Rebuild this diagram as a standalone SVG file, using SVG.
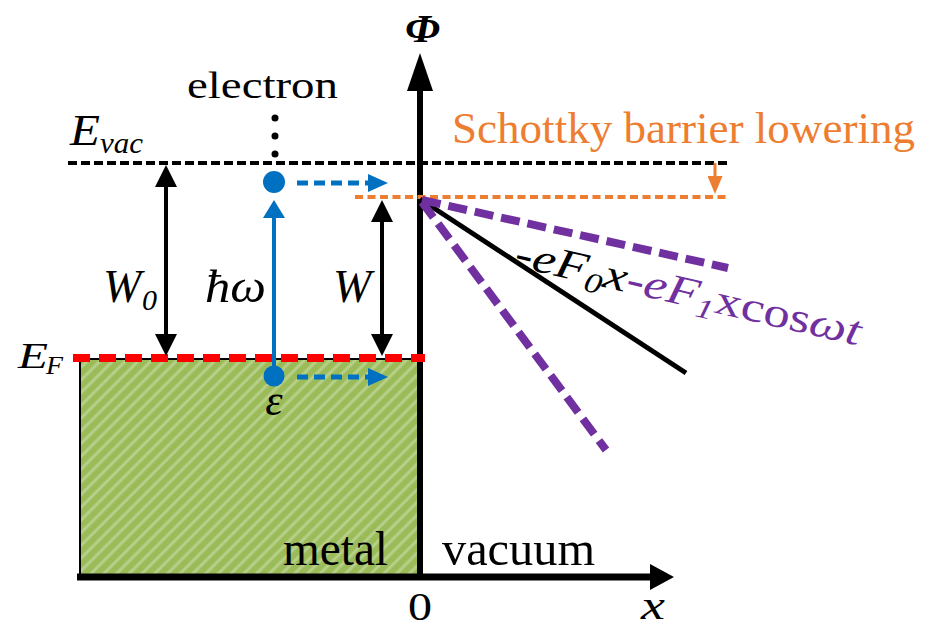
<svg xmlns="http://www.w3.org/2000/svg" width="933" height="630" viewBox="0 0 933 630">
<style>
text{font-family:"Liberation Serif","Times New Roman",serif;fill:#000}
.it{font-style:italic}
.blk{stroke:#000;fill:none}
.blue{stroke:#0070C0;fill:none}
.pur{stroke:#7030A0;stroke-width:8;stroke-dasharray:19 8;fill:none}
</style>
<defs>
<pattern id="hatch" patternUnits="userSpaceOnUse" width="9" height="9" patternTransform="rotate(45)">
<rect width="9" height="9" fill="#9BBB59"/>
<line x1="2" y1="0" x2="2" y2="9" stroke="#B7D08A" stroke-width="3"/>
</pattern>
<marker id="ahBlk" viewBox="0 0 22 22" refX="14" refY="11" markerWidth="22" markerHeight="22" markerUnits="userSpaceOnUse" orient="auto-start-reverse">
<path d="M0,0 L22,11 L0,22 z" fill="#000"/>
</marker>
<marker id="ahBlue" viewBox="0 0 18 22" refX="10" refY="11" markerWidth="18" markerHeight="22" markerUnits="userSpaceOnUse" orient="auto">
<path d="M0,0 L18,11 L0,22 z" fill="#0070C0"/>
</marker>
<marker id="ahBlueS" viewBox="0 0 20 18" refX="12" refY="9" markerWidth="20" markerHeight="18" markerUnits="userSpaceOnUse" orient="auto">
<path d="M0,0 L20,9 L0,18 z" fill="#0070C0"/>
</marker>
<marker id="ahOr" viewBox="0 0 18 15" refX="10" refY="7.5" markerWidth="18" markerHeight="15" markerUnits="userSpaceOnUse" orient="auto">
<path d="M0,0 L18,7.5 L0,15 z" fill="#ED7D31"/>
</marker>
</defs>

<g id="metal">
<rect x="80" y="358" width="340" height="219" fill="url(#hatch)"/>
<line x1="80" y1="358" x2="80" y2="577" stroke="#000" stroke-width="2"/>
<line x1="80" y1="359" x2="420" y2="359" stroke="#000" stroke-width="2"/>
<text x="283" y="565" font-size="48" textLength="105" lengthAdjust="spacingAndGlyphs">metal</text>
</g>

<g id="vacuum">
<text x="442" y="565" font-size="48" textLength="153" lengthAdjust="spacingAndGlyphs">vacuum</text>
</g>

<g id="axes">
<line x1="420" y1="577" x2="420" y2="88" stroke="#000" stroke-width="6"/>
<polygon points="420,53 407,91 433,91" fill="#000"/>
<line x1="77" y1="577" x2="652" y2="577" stroke="#000" stroke-width="7"/>
<polygon points="674,577 650,564 650,590" fill="#000"/>
<text class="it" x="405" y="42" font-size="40" font-weight="bold" textLength="35" lengthAdjust="spacingAndGlyphs">Φ</text>
<text x="408" y="620" font-size="41" textLength="24" lengthAdjust="spacingAndGlyphs">0</text>
<text class="it" x="641" y="619" font-size="41" textLength="24" lengthAdjust="spacingAndGlyphs">x</text>
</g>

<g id="levels">
<line x1="68" y1="163" x2="727" y2="163" stroke="#000" stroke-width="4" stroke-dasharray="9 4"/>
<line x1="355" y1="197" x2="730" y2="197" stroke="#ED7D31" stroke-width="4" stroke-dasharray="8 4.5"/>
<line x1="73" y1="358" x2="425" y2="358" stroke="#FF0000" stroke-width="8" stroke-dasharray="17 9"/>
<text class="it" x="70" y="145" font-size="44" textLength="30" lengthAdjust="spacingAndGlyphs">E</text>
<text class="it" x="100" y="153" font-size="30" textLength="43" lengthAdjust="spacingAndGlyphs">vac</text>
<text class="it" x="18" y="368" font-size="36" textLength="30" lengthAdjust="spacingAndGlyphs">E</text>
<text class="it" x="46" y="374" font-size="26" textLength="17" lengthAdjust="spacingAndGlyphs">F</text>
</g>

<g id="schottky">
<text x="452" y="143" font-size="45" style="fill:#ED7D31" textLength="463" lengthAdjust="spacingAndGlyphs">Schottky barrier lowering</text>
</g>

<g id="electron">
<text x="187" y="98" font-size="37" textLength="151" lengthAdjust="spacingAndGlyphs">electron</text>
<circle cx="275" cy="118" r="3.5" fill="#000"/>
<circle cx="275" cy="136" r="3.5" fill="#000"/>
<circle cx="275" cy="154" r="3.5" fill="#000"/>
<circle cx="274" cy="182" r="11" fill="#0070C0"/>
<circle cx="274" cy="376" r="10.5" fill="#0070C0"/>
<text class="it" x="274" y="415" font-size="44" text-anchor="middle">ε</text>
</g>

<g id="labels">
<text class="it" x="103" y="302" font-size="46">W</text>
<text class="it" x="142" y="310" font-size="30">0</text>
<text class="it" x="205" y="302" font-size="46" textLength="61" lengthAdjust="spacingAndGlyphs">ħω</text>
<text class="it" x="333" y="302" font-size="46">W</text>
</g>

<g id="potential">
<line x1="420" y1="199" x2="686" y2="373" stroke="#000" stroke-width="5"/>
<line class="pur" x1="422" y1="200" x2="728" y2="268"/>
<line class="pur" x1="422" y1="202" x2="606" y2="450"/>
<text class="it" x="513" y="266" font-size="42" transform="rotate(13 513 266)" textLength="354" lengthAdjust="spacingAndGlyphs">-eF<tspan font-size="28" dy="8">0</tspan><tspan dy="-8">x</tspan><tspan style="fill:#7030A0">-eF</tspan><tspan style="fill:#7030A0" font-size="28" dy="8">1</tspan><tspan style="fill:#7030A0;font-style:normal" dy="-8">xcos</tspan><tspan style="fill:#7030A0">ωt</tspan></text>
</g>

<g id="connectors">
<line class="blk" x1="166" y1="173" x2="166" y2="348" stroke-width="4" marker-start="url(#ahBlk)" marker-end="url(#ahBlk)"/>
<line class="blk" x1="382" y1="208" x2="382" y2="348" stroke-width="4" marker-start="url(#ahBlk)" marker-end="url(#ahBlk)"/>
<line class="blue" x1="274" y1="376" x2="274" y2="208" stroke-width="4" marker-end="url(#ahBlue)"/>
<line class="blue" x1="297" y1="183" x2="380" y2="183" stroke-width="5" stroke-dasharray="11 6" marker-end="url(#ahBlueS)"/>
<line class="blue" x1="297" y1="377" x2="380" y2="377" stroke-width="5" stroke-dasharray="11 6" marker-end="url(#ahBlueS)"/>
<line x1="715" y1="163" x2="715" y2="186" stroke="#ED7D31" stroke-width="3" marker-end="url(#ahOr)"/>
</g>
</svg>
